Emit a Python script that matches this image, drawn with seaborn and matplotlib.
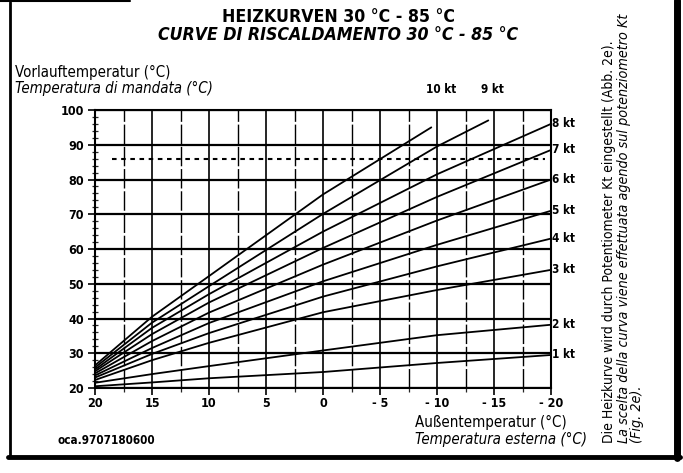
#!/usr/bin/env python3
"""
Heizkurven 30-85 °C (scan recreation)
"""

import os
import numpy as np
import pandas as pd
import seaborn as sns
import matplotlib
matplotlib.use("Agg")
import matplotlib.pyplot as plt
from matplotlib import font_manager
from matplotlib.lines import Line2D

# --- Data ---
# outdoor temperature (°C) at which the curves were read
outdoor = [20, 15, 10, 0, -10, -20]
kt1 = [20.5, 21.6, 22.8, 24.6, 27.2, 29.5]
kt2 = [21.5, 24.0, 26.3, 30.8, 35.2, 38.2]
kt3 = [22.3, 28.0, 33.0, 41.8, 48.2, 54.0]
kt4 = [23.0, 29.8, 35.8, 46.3, 55.0, 63.0]
kt5 = [23.6, 31.5, 38.7, 50.7, 61.2, 71.0]
kt6 = [24.2, 33.5, 41.7, 55.5, 68.2, 80.0]
kt7 = [24.8, 35.5, 44.6, 60.3, 75.0, 88.5]
kt8 = [25.3, 37.3, 47.0, 65.0, 81.5, 96.0]
# 9 kt and 10 kt leave the chart through the top
outdoor_kt9 = [20, 15, 10, 0, -10, -14.5]
kt9 = [25.9, 38.8, 49.3, 70.1, 89.5, 97.0]
outdoor_kt10 = [20, 15, 10, 0, -9.5]
kt10 = [26.5, 40.5, 52.2, 75.7, 95.0]

max_flow = 86  # dotted line
x_ticks = [20, 15, 10, 5, 0, -5, -10, -15, -20]
x_tick_labels = ['20', '15', '10', '5', '0', '- 5', '- 10', '- 15', '- 20']
y_ticks = [20, 30, 40, 50, 60, 70, 80, 90, 100]

curves = [
    ('1 kt', outdoor, kt1), ('2 kt', outdoor, kt2), ('3 kt', outdoor, kt3),
    ('4 kt', outdoor, kt4), ('5 kt', outdoor, kt5), ('6 kt', outdoor, kt6),
    ('7 kt', outdoor, kt7), ('8 kt', outdoor, kt8),
    ('9 kt', outdoor_kt9, kt9), ('10 kt', outdoor_kt10, kt10),
]

rows = []
for name, xs, ys in curves:
    for x, y in zip(xs, ys):
        rows.append({'curve': name, 'outdoor': x, 'flow': y})
df = pd.DataFrame(rows)

# --- Style: the scan uses a narrow Helvetica, take a condensed face if there is one ---
sns.set_theme(style="ticks")
ttf = font_manager.fontManager.ttflist
names = {f.name for f in ttf}
dejavu_cond = [f for f in ttf if 'DejaVuSansCondensed' in os.path.basename(f.fname)]
if 'Liberation Sans Narrow' in names:
    main_font, stretch = 'Liberation Sans Narrow', 'normal'
elif dejavu_cond:
    main_font, stretch = dejavu_cond[0].name, 'condensed'
else:
    main_font, stretch = 'Liberation Sans', 'normal'
plt.rcParams['font.family'] = [main_font, 'DejaVu Sans']
plt.rcParams['font.stretch'] = stretch
plt.rcParams['text.color'] = 'black'
plt.rcParams['axes.unicode_minus'] = False

W, H = 683, 473
fig = plt.figure(figsize=(W / 100, H / 100), dpi=100)
fig.patch.set_facecolor('white')

def fx(px):
    return px / W

def fy(py):
    return 1 - py / H

ax = fig.add_axes([fx(95), fy(388), fx(551) - fx(95), fy(110) - fy(388)])
ax.set_facecolor('white')

# grid drawn as plain black lines like the paper chart
for y in y_ticks:
    ax.axhline(y, color='black', lw=1.6, zorder=1)
for i, x in enumerate(np.arange(20, -20.1, -2.5)):
    if i % 2 == 0:
        ax.axvline(x, color='black', lw=1.2, zorder=1)
    else:
        ax.axvline(x, color='black', lw=1.0, ls=(0, (14, 2)), zorder=1)

ax.hlines(max_flow, 18.5, -19.5, color='black', lw=1.5, ls=(0, (2.2, 2.2)), zorder=2)

sns.lineplot(data=df, x='outdoor', y='flow', units='curve', estimator=None,
             sort=False, color='black', lw=1.3, ax=ax, zorder=3)

ax.set_xlim(20, -20)
ax.set_ylim(20, 100)
ax.set_xlabel('')
ax.set_ylabel('')
ax.set_xticks(x_ticks)
ax.set_xticklabels(x_tick_labels)
ax.set_xticks(np.arange(20, -20.1, -2.5), minor=True)
ax.set_yticks(y_ticks)
ax.set_yticks(np.arange(20, 101, 2), minor=True)
ax.tick_params(axis='both', which='major', direction='out', length=5, width=1.2,
               labelsize=9, colors='black')
ax.tick_params(axis='y', which='major', pad=3)
ax.tick_params(axis='x', which='major', pad=1.5)
ax.tick_params(axis='y', which='minor', direction='inout', length=4, width=0.9)
ax.tick_params(axis='x', which='minor', direction='out', length=3, width=0.9)
for lab in ax.get_xticklabels() + ax.get_yticklabels():
    lab.set_fontweight('bold')

for spine in ax.spines.values():
    spine.set_visible(True)
    spine.set_linewidth(1.5)
    spine.set_color('black')

# curve labels: 1-8 kt at the right edge, 9 and 10 kt above the chart
top_shift = {'9 kt': 3, '10 kt': 7}
for name, xs, ys in curves:
    if xs[-1] == -20:
        ax.annotate(name, xy=(xs[-1], ys[-1]), xytext=(0.5, 0), textcoords='offset points',
                    ha='left', va='center', fontsize=8.5, fontweight='bold',
                    annotation_clip=False)
    else:
        ax.annotate(name, xy=(xs[-1], 100), xytext=(top_shift[name], 15),
                    textcoords='offset points', ha='center', va='center',
                    fontsize=8.5, fontweight='bold', annotation_clip=False)

# titles and axis texts
fig.text(fx(338), fy(17), 'HEIZKURVEN 30 °C - 85 °C', ha='center', va='center',
         fontsize=12.7, fontweight='bold')
fig.text(fx(338), fy(35), 'CURVE DI RISCALDAMENTO 30 °C - 85 °C', ha='center', va='center',
         fontsize=12.7, fontweight='bold', style='italic')
fig.text(fx(15), fy(72), 'Vorlauftemperatur (°C)', ha='left', va='center', fontsize=10.8)
fig.text(fx(15), fy(88), 'Temperatura di mandata (°C)', ha='left', va='center',
         fontsize=10.8, style='italic')
fig.text(fx(415), fy(422), 'Außentemperatur (°C)', ha='left', va='center', fontsize=10.8)
fig.text(fx(415), fy(439), 'Temperatura esterna (°C)', ha='left', va='center',
         fontsize=10.8, style='italic')
fig.text(fx(57), fy(440), 'oca.9707180600', ha='left', va='center', fontsize=8.4,
         fontweight='bold')

fig.text(fx(609), fy(443), 'Die Heizkurve wird durch Potentiometer Kt eingestellt (Abb. 2e).',
         rotation=90, ha='center', va='bottom', fontsize=10.0)
fig.text(fx(624), fy(443), 'La scelta della curva viene effettuata agendo sul potenziometro Kt',
         rotation=90, ha='center', va='bottom', fontsize=10.3, style='italic')
fig.text(fx(637), fy(443), '(Fig. 2e).', rotation=90, ha='center', va='bottom',
         fontsize=10.3, style='italic')

# paper frame
frame = [
    ((10, 10), (2, 456), 2.0),
    ((0, 130), (1, 1), 1.5),
    ((8, 680), (457, 457), 3.5),
    ((677, 677), (0, 458), 5.0),
]
for (x0, x1), (y0, y1), lw in frame:
    fig.add_artist(Line2D([fx(x0), fx(x1)], [fy(y0), fy(y1)], color='black', lw=lw,
                          transform=fig.transFigure))

fig.savefig('out.png', dpi=100, facecolor='white')
